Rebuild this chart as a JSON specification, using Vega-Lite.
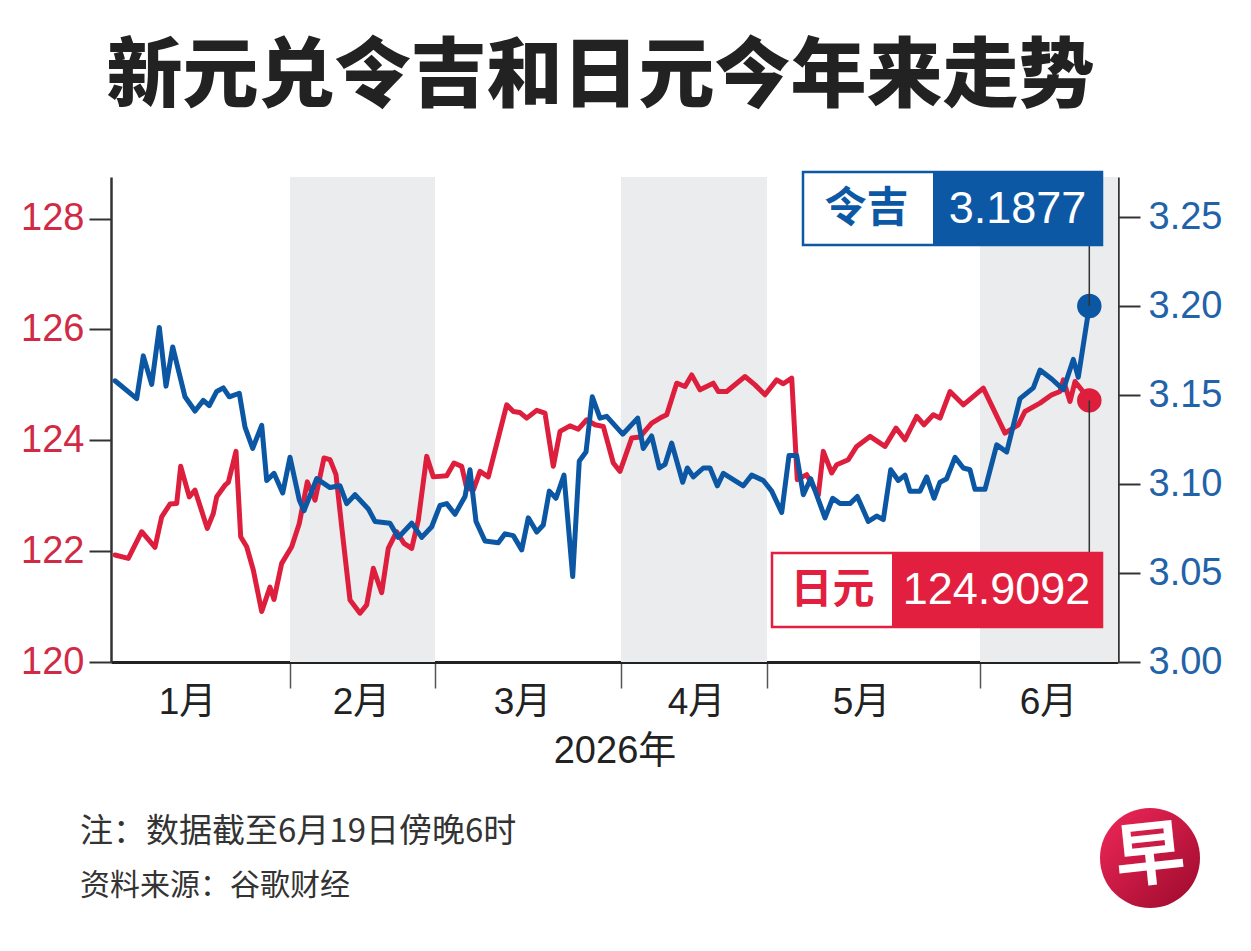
{
  "$schema": "https://vega.github.io/schema/vega-lite/v6.json",
  "width": 1007,
  "height": 485,
  "autosize": {"type": "none"},
  "padding": {"left": 111, "top": 177, "right": 133, "bottom": 289},
  "background": "white",
  "title": {
    "text": "新元兑令吉和日元今年来走势",
    "font": "Noto Sans CJK SC",
    "fontSize": 76,
    "fontWeight": 900,
    "color": "#222222",
    "anchor": "middle",
    "frame": "group",
    "baseline": "alphabetic",
    "dx": -14,
    "dy": 72,
    "offset": 66
  },
  "config": {
    "view": {"stroke": null},
    "axis": {"grid": false, "domainColor": "#333333", "tickColor": "#333333"}
  },
  "datasets": {
    "months": [
      {"month": "2月", "start": 17.9, "end": 32.4},
      {"month": "4月", "start": 51.0, "end": 65.6},
      {"month": "6月", "start": 86.9, "end": 100.7}
    ],
    "jpy": [
      {"i": 0.4, "v": 121.93}, {"i": 1.73, "v": 121.87}, {"i": 3.07, "v": 122.35}, {"i": 4.4, "v": 122.07},
      {"i": 5.07, "v": 122.62}, {"i": 5.9, "v": 122.85}, {"i": 6.57, "v": 122.86}, {"i": 6.97, "v": 123.53},
      {"i": 7.83, "v": 122.98}, {"i": 8.4, "v": 123.10}, {"i": 9.63, "v": 122.41}, {"i": 10.23, "v": 122.68},
      {"i": 10.57, "v": 122.98}, {"i": 11.4, "v": 123.19}, {"i": 11.73, "v": 123.24}, {"i": 12.5, "v": 123.80},
      {"i": 12.97, "v": 122.26}, {"i": 13.57, "v": 122.08}, {"i": 14.23, "v": 121.66}, {"i": 15.07, "v": 120.91},
      {"i": 15.9, "v": 121.35}, {"i": 16.3, "v": 121.13}, {"i": 17.07, "v": 121.78}, {"i": 18.07, "v": 122.08},
      {"i": 18.83, "v": 122.50}, {"i": 19.63, "v": 123.25}, {"i": 20.4, "v": 122.92}, {"i": 21.3, "v": 123.68},
      {"i": 21.9, "v": 123.65}, {"i": 22.5, "v": 123.38}, {"i": 23.07, "v": 122.44}, {"i": 23.9, "v": 121.12},
      {"i": 24.9, "v": 120.88}, {"i": 25.57, "v": 121.03}, {"i": 26.23, "v": 121.69}, {"i": 27.07, "v": 121.25},
      {"i": 27.73, "v": 122.05}, {"i": 28.57, "v": 122.35}, {"i": 29.3, "v": 122.14}, {"i": 30.07, "v": 122.05},
      {"i": 30.73, "v": 122.56}, {"i": 31.57, "v": 123.71}, {"i": 32.23, "v": 123.34}, {"i": 33.57, "v": 123.36},
      {"i": 34.3, "v": 123.59}, {"i": 35.07, "v": 123.53}, {"i": 35.57, "v": 123.14}, {"i": 36.23, "v": 123.10},
      {"i": 36.9, "v": 123.44}, {"i": 37.73, "v": 123.34}, {"i": 39.57, "v": 124.64}, {"i": 40.23, "v": 124.52},
      {"i": 40.9, "v": 124.50}, {"i": 41.57, "v": 124.40}, {"i": 42.57, "v": 124.54}, {"i": 43.4, "v": 124.49},
      {"i": 44.23, "v": 123.53}, {"i": 44.9, "v": 124.16}, {"i": 45.9, "v": 124.26}, {"i": 46.73, "v": 124.20},
      {"i": 47.57, "v": 124.37}, {"i": 48.4, "v": 124.28}, {"i": 49.23, "v": 124.25}, {"i": 50.23, "v": 123.59},
      {"i": 50.9, "v": 123.44}, {"i": 52.07, "v": 124.04}, {"i": 52.9, "v": 124.06}, {"i": 54.07, "v": 124.31},
      {"i": 54.9, "v": 124.40}, {"i": 55.57, "v": 124.46}, {"i": 56.57, "v": 125.03}, {"i": 57.4, "v": 124.97},
      {"i": 58.07, "v": 125.18}, {"i": 58.9, "v": 124.91}, {"i": 60.23, "v": 125.03}, {"i": 60.73, "v": 124.88},
      {"i": 61.57, "v": 124.88}, {"i": 63.4, "v": 125.15}, {"i": 64.4, "v": 125.00}, {"i": 65.4, "v": 124.82},
      {"i": 66.57, "v": 125.09}, {"i": 67.23, "v": 125.02}, {"i": 68.07, "v": 125.12}, {"i": 68.63, "v": 123.29},
      {"i": 69.57, "v": 123.38}, {"i": 70.73, "v": 123.01}, {"i": 71.23, "v": 123.80}, {"i": 72.07, "v": 123.41},
      {"i": 72.57, "v": 123.56}, {"i": 73.73, "v": 123.65}, {"i": 74.57, "v": 123.89}, {"i": 75.9, "v": 124.07},
      {"i": 77.4, "v": 123.89}, {"i": 78.5, "v": 124.22}, {"i": 79.4, "v": 124.01}, {"i": 80.57, "v": 124.43},
      {"i": 81.3, "v": 124.28}, {"i": 82.23, "v": 124.46}, {"i": 82.9, "v": 124.40}, {"i": 83.9, "v": 124.88},
      {"i": 85.23, "v": 124.64}, {"i": 87.23, "v": 124.94}, {"i": 89.4, "v": 124.13}, {"i": 90.73, "v": 124.28},
      {"i": 91.4, "v": 124.52}, {"i": 92.9, "v": 124.67}, {"i": 94.07, "v": 124.82}, {"i": 94.9, "v": 124.88},
      {"i": 95.23, "v": 125.09}, {"i": 95.9, "v": 124.70}, {"i": 96.4, "v": 125.06}, {"i": 97.07, "v": 124.91},
      {"i": 97.83, "v": 124.72}
    ],
    "myr": [
      {"i": 0.4, "v": 3.158}, {"i": 2.57, "v": 3.148}, {"i": 3.23, "v": 3.172}, {"i": 4.07, "v": 3.156},
      {"i": 4.83, "v": 3.188}, {"i": 5.5, "v": 3.155}, {"i": 6.17, "v": 3.177}, {"i": 7.4, "v": 3.149},
      {"i": 8.4, "v": 3.141}, {"i": 9.23, "v": 3.147}, {"i": 9.83, "v": 3.144}, {"i": 10.57, "v": 3.152},
      {"i": 11.23, "v": 3.154}, {"i": 11.83, "v": 3.149}, {"i": 12.83, "v": 3.151}, {"i": 13.4, "v": 3.132},
      {"i": 14.17, "v": 3.120}, {"i": 15.07, "v": 3.133}, {"i": 15.57, "v": 3.102}, {"i": 16.3, "v": 3.106},
      {"i": 17.17, "v": 3.095}, {"i": 17.9, "v": 3.115}, {"i": 18.83, "v": 3.091}, {"i": 19.3, "v": 3.085},
      {"i": 20.57, "v": 3.103}, {"i": 21.9, "v": 3.098}, {"i": 22.9, "v": 3.099}, {"i": 23.57, "v": 3.089},
      {"i": 24.4, "v": 3.094}, {"i": 25.73, "v": 3.086}, {"i": 26.4, "v": 3.079}, {"i": 27.9, "v": 3.078},
      {"i": 28.73, "v": 3.070}, {"i": 30.07, "v": 3.078}, {"i": 31.07, "v": 3.070}, {"i": 32.07, "v": 3.076},
      {"i": 32.9, "v": 3.088}, {"i": 33.57, "v": 3.089}, {"i": 34.4, "v": 3.083}, {"i": 35.4, "v": 3.093},
      {"i": 35.9, "v": 3.108}, {"i": 36.5, "v": 3.079}, {"i": 37.4, "v": 3.068}, {"i": 38.73, "v": 3.067},
      {"i": 39.4, "v": 3.072}, {"i": 40.23, "v": 3.071}, {"i": 41.07, "v": 3.063}, {"i": 41.73, "v": 3.081},
      {"i": 42.57, "v": 3.073}, {"i": 43.23, "v": 3.077}, {"i": 43.83, "v": 3.096}, {"i": 44.5, "v": 3.092},
      {"i": 45.3, "v": 3.105}, {"i": 46.17, "v": 3.048}, {"i": 46.83, "v": 3.113}, {"i": 47.5, "v": 3.118},
      {"i": 48.13, "v": 3.149}, {"i": 48.9, "v": 3.137}, {"i": 49.57, "v": 3.138}, {"i": 51.17, "v": 3.128},
      {"i": 52.67, "v": 3.137}, {"i": 53.23, "v": 3.120}, {"i": 54.07, "v": 3.127}, {"i": 54.83, "v": 3.109},
      {"i": 55.4, "v": 3.111}, {"i": 56.07, "v": 3.123}, {"i": 57.17, "v": 3.101}, {"i": 57.63, "v": 3.109},
      {"i": 58.23, "v": 3.104}, {"i": 59.23, "v": 3.109}, {"i": 59.9, "v": 3.109}, {"i": 60.63, "v": 3.099},
      {"i": 61.23, "v": 3.106}, {"i": 63.23, "v": 3.099}, {"i": 64.07, "v": 3.105}, {"i": 65.23, "v": 3.102},
      {"i": 66.07, "v": 3.096}, {"i": 67.07, "v": 3.084}, {"i": 67.8, "v": 3.116}, {"i": 68.57, "v": 3.116},
      {"i": 69.23, "v": 3.094}, {"i": 69.97, "v": 3.103}, {"i": 71.4, "v": 3.081}, {"i": 72.17, "v": 3.092},
      {"i": 72.9, "v": 3.089}, {"i": 73.9, "v": 3.089}, {"i": 74.63, "v": 3.093}, {"i": 75.73, "v": 3.079},
      {"i": 76.57, "v": 3.082}, {"i": 77.23, "v": 3.080}, {"i": 77.97, "v": 3.108}, {"i": 78.73, "v": 3.102},
      {"i": 79.4, "v": 3.105}, {"i": 79.9, "v": 3.096}, {"i": 80.9, "v": 3.096}, {"i": 81.57, "v": 3.104},
      {"i": 82.3, "v": 3.092}, {"i": 82.9, "v": 3.101}, {"i": 83.57, "v": 3.103}, {"i": 84.4, "v": 3.115},
      {"i": 85.23, "v": 3.109}, {"i": 85.9, "v": 3.108}, {"i": 86.4, "v": 3.097}, {"i": 87.4, "v": 3.097},
      {"i": 88.57, "v": 3.122}, {"i": 89.57, "v": 3.118}, {"i": 90.9, "v": 3.148}, {"i": 92.23, "v": 3.154},
      {"i": 92.9, "v": 3.164}, {"i": 94.07, "v": 3.159}, {"i": 95.23, "v": 3.153}, {"i": 96.23, "v": 3.170},
      {"i": 96.73, "v": 3.160}, {"i": 97.83, "v": 3.200}
    ]
  },
  "layer": [
    {
      "data": {"name": "months"},
      "mark": {"type": "rect", "color": "#ebecee"},
      "encoding": {
        "x": {
          "field": "start",
          "type": "quantitative",
          "title": "2026年",
          "scale": {"domain": [0, 100.7], "nice": false, "zero": false},
          "axis": {
            "values": [7.6, 17.9, 25.0, 32.4, 41.1, 51.0, 58.5, 65.6, 75.0, 86.9, 93.7],
            "labelExpr": "datum.value == 7.6 ? '1月' : datum.value == 25 ? '2月' : datum.value == 41.1 ? '3月' : datum.value == 58.5 ? '4月' : datum.value == 75 ? '5月' : datum.value == 93.7 ? '6月' : ''",
            "labelFont": "Liberation Sans, Noto Sans CJK SC, sans-serif",
            "labelFontSize": 37,
            "labelColor": "#222222",
            "labelOverlap": false,
            "labelFlush": false,
            "labelPadding": -4,
            "tickSize": 26,
            "tickWidth": 1.5,
            "tickColor": "#555555",
            "tickOpacity": {"condition": {"test": "indexof([17.9, 32.4, 51, 65.6, 86.9], datum.value) >= 0", "value": 1}, "value": 0},
            "domainWidth": 3,
            "domainColor": "#222222",
            "titleFont": "Liberation Sans, Noto Sans CJK SC, sans-serif",
            "titleFontSize": 38,
            "titleFontWeight": "normal",
            "titleColor": "#222222",
            "titlePadding": 12
          }
        },
        "x2": {"field": "end"}
      }
    },
    {
      "layer": [
        {
          "data": {"name": "jpy"},
          "mark": {"type": "line", "color": "#dd1f3d", "strokeWidth": 5, "strokeJoin": "round", "strokeCap": "round"},
          "encoding": {
            "x": {"field": "i", "type": "quantitative", "title": "2026年"},
            "y": {
              "field": "v",
              "type": "quantitative",
              "scale": {"domain": [120, 128.75], "nice": false, "zero": false},
              "axis": {
                "orient": "left",
                "title": null,
                "values": [120, 122, 124, 126, 128],
                "format": "d",
                "labelFont": "Liberation Sans, sans-serif",
                "labelFontSize": 38,
                "labelColor": "#d12a45",
                "labelPadding": 5,
                "tickSize": 22,
                "tickWidth": 2,
                "tickColor": "#333333",
                "domainWidth": 2.5,
                "domainColor": "#333333"
              }
            }
          }
        },
        {
          "data": {"name": "jpy"},
          "transform": [{"filter": "datum.i == 97.83"}],
          "mark": {"type": "point", "filled": true, "opacity": 1, "size": 600, "color": "#dd1f3d"},
          "encoding": {
            "x": {"field": "i", "type": "quantitative", "title": "2026年"},
            "y": {"field": "v", "type": "quantitative"}
          }
        },
        {
          "data": {"values": [{}]},
          "mark": {"type": "rule", "color": "#333333", "strokeWidth": 1.5},
          "encoding": {
            "x": {"datum": 97.83, "type": "quantitative"},
            "y": {"datum": 124.72, "type": "quantitative"},
            "y2": {"datum": 121.966}
          }
        },
        {
          "data": {"values": [{}]},
          "mark": {"type": "rect", "fill": "white", "stroke": "#e21f3e", "strokeWidth": 2.5},
          "encoding": {
            "x": {"datum": 66.1, "type": "quantitative"},
            "x2": {"datum": 99.1},
            "y": {"datum": 121.966, "type": "quantitative"},
            "y2": {"datum": 120.631}
          }
        },
        {
          "data": {"values": [{}]},
          "mark": {"type": "rect", "fill": "#e21f3e"},
          "encoding": {
            "x": {"datum": 78.1, "type": "quantitative"},
            "x2": {"datum": 99.1},
            "y": {"datum": 121.966, "type": "quantitative"},
            "y2": {"datum": 120.631}
          }
        },
        {
          "data": {"values": [{"label": "日元"}]},
          "mark": {"type": "text", "font": "Noto Sans CJK SC", "fontWeight": "bold", "fontSize": 42, "color": "#e21f3e", "align": "center", "baseline": "middle"},
          "encoding": {
            "x": {"datum": 72.15, "type": "quantitative"},
            "y": {"datum": 121.3, "type": "quantitative"},
            "text": {"field": "label"}
          }
        },
        {
          "data": {"values": [{"label": "124.9092"}]},
          "mark": {"type": "text", "font": "Liberation Sans, sans-serif", "fontSize": 45, "color": "white", "align": "center", "baseline": "middle"},
          "encoding": {
            "x": {"datum": 88.55, "type": "quantitative"},
            "y": {"datum": 121.3, "type": "quantitative"},
            "text": {"field": "label"}
          }
        },
        {
          "data": {"values": [{"note": "注：数据截至6月19日傍晚6时"}]},
          "mark": {"type": "text", "font": "Noto Sans CJK SC", "fontSize": 33, "color": "#333333", "align": "left", "baseline": "middle"},
          "encoding": {
            "x": {"datum": -3.1, "type": "quantitative"},
            "y": {"datum": 116.933, "type": "quantitative"},
            "text": {"field": "note"}
          }
        },
        {
          "data": {"values": [{"note": "资料来源：谷歌财经"}]},
          "mark": {"type": "text", "font": "Noto Sans CJK SC", "fontSize": 30, "color": "#333333", "align": "left", "baseline": "middle"},
          "encoding": {
            "x": {"datum": -3.1, "type": "quantitative"},
            "y": {"datum": 115.959, "type": "quantitative"},
            "text": {"field": "note"}
          }
        },
        {
          "data": {"values": [{}]},
          "mark": {
            "type": "point",
            "shape": "circle",
            "filled": true,
            "opacity": 1,
            "size": 10000,
            "strokeWidth": 0,
            "fill": {"gradient": "linear", "x1": 0, "y1": 0, "x2": 1, "y2": 1, "stops": [{"offset": 0, "color": "#f0285a"}, {"offset": 1, "color": "#9c0a2b"}]}
          },
          "encoding": {
            "x": {"datum": 103.9, "type": "quantitative"},
            "y": {"datum": 116.464, "type": "quantitative"}
          }
        },
        {
          "data": {"values": [{"logo": "早"}]},
          "mark": {"type": "text", "font": "Noto Sans CJK SC", "fontWeight": "bold", "fontSize": 70, "color": "white", "align": "center", "baseline": "middle", "angle": -6},
          "encoding": {
            "x": {"datum": 103.9, "type": "quantitative"},
            "y": {"datum": 116.464, "type": "quantitative"},
            "text": {"field": "logo"}
          }
        }
      ]
    },
    {
      "layer": [
        {
          "data": {"name": "myr"},
          "mark": {"type": "line", "color": "#0b57a4", "strokeWidth": 5, "strokeJoin": "round", "strokeCap": "round"},
          "encoding": {
            "x": {"field": "i", "type": "quantitative", "title": "2026年"},
            "y": {
              "field": "v",
              "type": "quantitative",
              "scale": {"domain": [3.0, 3.2725], "nice": false, "zero": false},
              "axis": {
                "orient": "right",
                "title": null,
                "values": [3.0, 3.05, 3.1, 3.15, 3.2, 3.25],
                "format": ".2f",
                "labelFont": "Liberation Sans, sans-serif",
                "labelFontSize": 38,
                "labelColor": "#2162a8",
                "labelPadding": 8,
                "tickSize": 22,
                "tickWidth": 2,
                "tickColor": "#333333",
                "domainWidth": 2.5,
                "domainColor": "#333333"
              }
            }
          }
        },
        {
          "data": {"name": "myr"},
          "transform": [{"filter": "datum.i == 97.83"}],
          "mark": {"type": "point", "filled": true, "opacity": 1, "size": 600, "color": "#0b57a4"},
          "encoding": {
            "x": {"field": "i", "type": "quantitative", "title": "2026年"},
            "y": {"field": "v", "type": "quantitative"}
          }
        },
        {
          "data": {"values": [{}]},
          "mark": {"type": "rule", "color": "#333333", "strokeWidth": 1.5},
          "encoding": {
            "x": {"datum": 97.83, "type": "quantitative"},
            "y": {"datum": 3.2343, "type": "quantitative"},
            "y2": {"datum": 3.2}
          }
        },
        {
          "data": {"values": [{}]},
          "mark": {"type": "rect", "fill": "white", "stroke": "#0d58a5", "strokeWidth": 2.5},
          "encoding": {
            "x": {"datum": 69.2, "type": "quantitative"},
            "x2": {"datum": 99.1},
            "y": {"datum": 3.2753, "type": "quantitative"},
            "y2": {"datum": 3.2343}
          }
        },
        {
          "data": {"values": [{}]},
          "mark": {"type": "rect", "fill": "#0d58a5"},
          "encoding": {
            "x": {"datum": 82.2, "type": "quantitative"},
            "x2": {"datum": 99.1},
            "y": {"datum": 3.2753, "type": "quantitative"},
            "y2": {"datum": 3.2343}
          }
        },
        {
          "data": {"values": [{"label": "令吉"}]},
          "mark": {"type": "text", "font": "Noto Sans CJK SC", "fontWeight": "bold", "fontSize": 42, "color": "#0d58a5", "align": "center", "baseline": "middle"},
          "encoding": {
            "x": {"datum": 75.55, "type": "quantitative"},
            "y": {"datum": 3.2548, "type": "quantitative"},
            "text": {"field": "label"}
          }
        },
        {
          "data": {"values": [{"label": "3.1877"}]},
          "mark": {"type": "text", "font": "Liberation Sans, sans-serif", "fontSize": 45, "color": "white", "align": "center", "baseline": "middle"},
          "encoding": {
            "x": {"datum": 90.65, "type": "quantitative"},
            "y": {"datum": 3.2548, "type": "quantitative"},
            "text": {"field": "label"}
          }
        }
      ]
    }
  ],
  "resolve": {"scale": {"y": "independent"}}
}
